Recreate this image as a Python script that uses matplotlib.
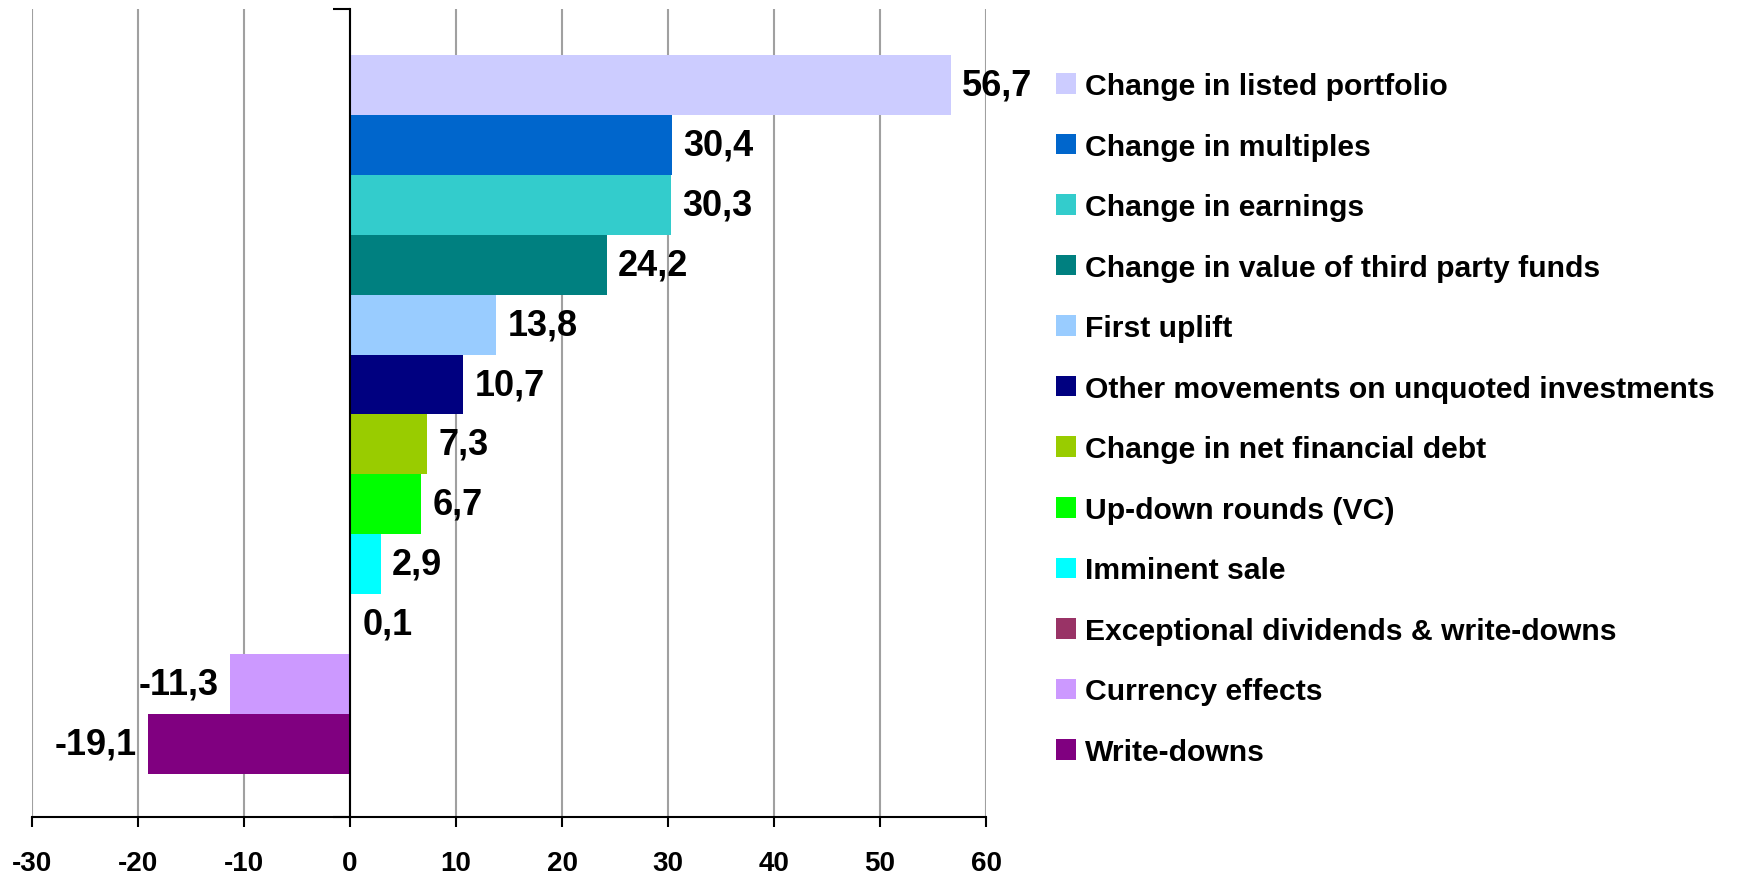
import matplotlib
matplotlib.use("Agg")
import matplotlib.pyplot as plt
import numpy as np

categories = [
    "Change in listed portfolio",
    "Change in multiples",
    "Change in earnings",
    "Change in value of third party funds",
    "First uplift",
    "Other movements on unquoted investments",
    "Change in net financial debt",
    "Up-down rounds (VC)",
    "Imminent sale",
    "Exceptional dividends & write-downs",
    "Currency effects",
    "Write-downs",
]
values = [56.7, 30.4, 30.3, 24.2, 13.8, 10.7, 7.3, 6.7, 2.9, 0.1, -11.3, -19.1]
colors = ["#CCCCFF", "#0066CC", "#33CCCC", "#008080", "#99CCFF", "#000080",
          "#99CC00", "#00FF00", "#00FFFF", "#993366", "#CC99FF", "#800080"]
xticks = [-30, -20, -10, 0, 10, 20, 30, 40, 50, 60]

plt.rcParams['font.family'] = ['Liberation Sans', 'DejaVu Sans']
plt.rcParams['font.weight'] = 'bold'

fig = plt.figure(figsize=(17.42, 8.78), dpi=100)
ax = fig.add_axes([32/1742, 1 - 818/878, (986-32)/1742, (818-10)/878])

y = np.arange(len(values))
bars = ax.barh(y, values, height=1.0, color=colors, zorder=3, linewidth=0)

ax.set_xlim(-30, 60)
ax.set_ylim(11.5 + 0.72, -0.5 - 0.77)

ax.set_xticks(xticks)
ax.set_xticklabels([str(t) for t in xticks], fontsize=20, fontweight='bold')
ax.xaxis.grid(True, color="#A0A0A0", linewidth=1.5, zorder=0)
ax.set_axisbelow(True)

for s in ['top', 'right']:
    ax.spines[s].set_visible(False)
ax.spines['left'].set_position(('data', 0))
ax.spines['left'].set_linewidth(1.5)
ax.spines['left'].set_zorder(4)
ax.spines['bottom'].set_linewidth(1.5)
ax.tick_params(axis='x', direction='out', length=7, width=1.5, pad=17)
lo, hi = ax.get_ylim()
ax.set_yticks([hi, lo])
ax.set_yticklabels([])
ax.tick_params(axis='y', direction='out', length=12, width=1.5)

for yi, v in zip(y, values):
    lab = f"{v:.1f}".replace('.', ',')
    if v >= 0:
        ax.annotate(lab, (v, yi), xytext=(8, 0), textcoords='offset points',
                    ha='left', va='center', fontsize=26, fontweight='bold', zorder=5)
    else:
        ax.annotate(lab, (v, yi), xytext=(-8, 0), textcoords='offset points',
                    ha='right', va='center', fontsize=26, fontweight='bold', zorder=5)

leg = fig.legend(bars, categories, loc='upper left',
                 bbox_to_anchor=(1056/1742, 1 - 73/878),
                 frameon=False, prop={'weight': 'bold', 'size': 21.7},
                 handlelength=0.67, handleheight=0.67, handletextpad=0.3,
                 labelspacing=1.08, borderpad=0, borderaxespad=0)

fig.savefig("out.png", dpi=100)
